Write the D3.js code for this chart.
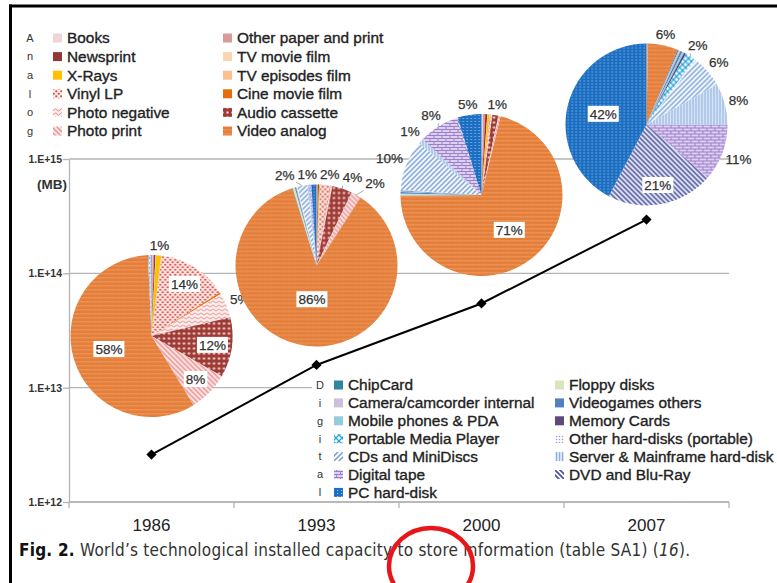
<!DOCTYPE html>
<html>
<head>
<meta charset="utf-8">
<script src="https://cdn.jsdelivr.net/npm/d3@7"></script>
<style>
  body { margin: 0; background: #fff; }
  svg { display: block; font-family: "Liberation Sans", Arial, sans-serif; }
</style>
</head>
<body>
<svg id="chart" width="777" height="583"></svg>
<script>
// ---- data -----------------------------------------------------------
const years = ["1986", "1993", "2000", "2007"];
// total installed storage capacity, MB
const totalMB = [2.6e12, 1.58e13, 5.45e13, 2.95e14];
const yTicks = [1e12, 1e13, 1e14, 1e15];

const analogSeries = ["Books", "Other paper and print", "Newsprint", "TV movie film",
  "X-Rays", "TV episodes film", "Vinyl LP", "Cine movie film", "Photo negative",
  "Audio cassette", "Photo print", "Video analog"];
const digitalSeries = ["ChipCard", "Floppy disks", "Camera/camcorder internal",
  "Videogames others", "Mobile phones & PDA", "Memory Cards", "Portable Media Player",
  "Other hard-disks (portable)", "CDs and MiniDiscs", "Server & Mainframe hard-disk",
  "Digital tape", "DVD and Blu-Ray", "PC hard-disk"];

// share of total capacity (%), same order as the series lists
const analog1986  = [0.2, 0.3, 0.3, 0.1, 1.0, 0.1, 14, 0.3, 5, 12, 8, 58];
const digital1986 = [0, 0.1, 0, 0.1, 0, 0, 0, 0, 0.2, 0.1, 0.1, 0, 0.1];
const analog1993  = [0.1, 0.2, 0.2, 0.03, 0.2, 0.02, 2.0, 0.1, 0.3, 4.0, 2.0, 86.0];
const digital1993 = [0.1, 0.4, 0.05, 0.2, 0.05, 0.05, 0.05, 0.15, 2.0, 0.3, 0.4, 0.1, 1.0];
const analog2000  = [0.3, 0.45, 0.4, 0.05, 0.4, 0.05, 0.1, 0.1, 0.3, 1.2, 0.45, 71.0];
const digital2000 = [0.1, 0.2, 0.2, 0.3, 0.2, 0.1, 0.05, 0.1, 10.0, 1.0, 8.0, 0.2, 4.75];
const analog2007  = [0.05, 0.05, 0.05, 0, 0.05, 0, 0, 0, 0.02, 0.05, 0.03, 6.0];
const digital2007 = [0.2, 0, 0.4, 0.4, 0.4, 0.4, 2.0, 0.4, 6.3, 8.3, 11.3, 21.3, 42.3];

const sharesByYear = [
  analog1986.concat(digital1986),
  analog1993.concat(digital1993),
  analog2000.concat(digital2000),
  analog2007.concat(digital2007)
];
const allSeries = analogSeries.concat(digitalSeries);

// ---- layout ---------------------------------------------------------
const svg = d3.select("#chart");
const plot = { left: 69, right: 729, top: 159, bottom: 502 };
const x = d3.scaleBand().domain(years).range([plot.left, plot.right]);
const y = d3.scaleLog().domain([1e12, 1e15]).range([plot.bottom, plot.top]);
const R = 81;                       // pie radius
const pieBaseY = 336, pieStepY = 70.5;
const insideMin = [8, 12, 12, 12];  // smallest % drawn inside a slice, per pie
const gridColor = "#b4b4b4";
const textColor = "#222";

// ---- fills ----------------------------------------------------------
const defs = svg.append("defs");
function pattern(id, w, h, bg, draw) {
  const p = defs.append("pattern").attr("id", id)
    .attr("patternUnits", "userSpaceOnUse").attr("width", w).attr("height", h);
  p.append("rect").attr("width", w).attr("height", h).attr("fill", bg);
  draw(p);
}
const line = (p, d, c, sw) => p.append("path").attr("d", d).attr("fill", "none")
  .attr("stroke", c).attr("stroke-width", sw);
const dot = (p, cx, cy, r, c) => p.append("circle").attr("cx", cx).attr("cy", cy)
  .attr("r", r).attr("fill", c);

pattern("p-video", 6, 4, "#e47e3b", p => line(p, "M0,2.6 L1.5,1 L3,2.6 L4.5,1 L6,2.6", "#f0a066", 0.9));
pattern("p-vinyl", 5, 5, "#fbe7e4", p => { dot(p, 1.25, 1.25, 1.1, "#d6463e"); dot(p, 3.75, 3.75, 1.1, "#d6463e"); });
pattern("p-photoneg", 6, 4, "#fdeeee", p => line(p, "M0,2 Q1.5,0 3,2 T6,2", "#e48c8c", 1));
pattern("p-audio", 5, 5, "#9e3b37", p => dot(p, 2.5, 2.5, 1.2, "#f1cfcb"));
pattern("p-photoprint", 5, 5, "#fce3e3", p => line(p, "M0,0 L5,5 M-1,4 L1,6 M4,-1 L6,1", "#e58f8f", 1.3));
pattern("p-pmp", 6, 6, "#ffffff", p => line(p, "M0,0 L6,6 M6,0 L0,6", "#22a3da", 1.3));
pattern("p-otherhd", 3, 3, "#ffffff", p => dot(p, 1.5, 1.5, 0.8, "#a998c9"));
pattern("p-cds", 5, 5, "#ffffff", p => line(p, "M0,5 L5,0 M-1,1 L1,-1 M4,6 L6,4", "#6d9ad4", 1.4));
pattern("p-server", 3, 4, "#d5e3f4", p => line(p, "M1.5,0 L1.5,4", "#8fb1df", 1));
pattern("p-dtape", 8, 6, "#ddd0f0", p => line(p, "M0,0.5 H8 M0,3.5 H8 M0.5,0.5 V3.5 M4.5,3.5 V6", "#9a7fca", 1));
pattern("p-dvd", 5, 5, "#ffffff", p => line(p, "M0,0 L5,5 M-1,4 L1,6 M4,-1 L6,1", "#4c559f", 1.8));
pattern("p-pchd", 4, 3, "#1c6ec2", p => p.append("rect").attr("x", 1).attr("y", 1)
  .attr("width", 1.3).attr("height", 0.9).attr("fill", "#9cc8f0"));

const seriesFill = {
  "Books": "#f1d3d6",
  "Other paper and print": "#d99a98",
  "Newsprint": "#943634",
  "TV movie film": "#fcd5b4",
  "X-Rays": "#ffc000",
  "TV episodes film": "#fac08f",
  "Vinyl LP": "url(#p-vinyl)",
  "Cine movie film": "#e46c0a",
  "Photo negative": "url(#p-photoneg)",
  "Audio cassette": "url(#p-audio)",
  "Photo print": "url(#p-photoprint)",
  "Video analog": "url(#p-video)",
  "ChipCard": "#31859c",
  "Floppy disks": "#d7e4bc",
  "Camera/camcorder internal": "#ccc0da",
  "Videogames others": "#4f81bd",
  "Mobile phones & PDA": "#93cddd",
  "Memory Cards": "#5f497a",
  "Portable Media Player": "url(#p-pmp)",
  "Other hard-disks (portable)": "url(#p-otherhd)",
  "CDs and MiniDiscs": "url(#p-cds)",
  "Server & Mainframe hard-disk": "url(#p-server)",
  "Digital tape": "url(#p-dtape)",
  "DVD and Blu-Ray": "url(#p-dvd)",
  "PC hard-disk": "url(#p-pchd)"
};

// ---- grid and axes --------------------------------------------------
svg.append("g").selectAll("line").data(yTicks).join("line")
  .attr("x1", plot.left).attr("x2", plot.right)
  .attr("y1", d => y(d)).attr("y2", d => y(d))
  .attr("stroke", gridColor).attr("stroke-width", 1.3);

const yAxis = svg.append("g").attr("transform", `translate(${plot.left},0)`)
  .call(d3.axisLeft(y).tickValues(yTicks).tickSize(6).tickSizeOuter(0)
    .tickFormat(d => "1.E+" + Math.round(Math.log10(d))));
yAxis.select(".domain").attr("stroke", gridColor).attr("stroke-width", 1.3);
yAxis.selectAll(".tick line").attr("stroke", gridColor).attr("stroke-width", 1.3);
yAxis.selectAll(".tick text").attr("font-family", "Liberation Sans, Arial, sans-serif")
  .attr("font-size", 10.5).attr("font-weight", "bold").attr("fill", "#333").attr("x", -7);

svg.append("text").attr("x", 52).attr("y", 184).attr("dy", "0.35em")
  .attr("text-anchor", "middle").attr("font-size", 13.5).attr("font-weight", "bold")
  .attr("fill", "#333").text("(MB)");

// x axis: labels at band centres, ticks at band edges
svg.append("line").attr("x1", plot.left).attr("x2", plot.right)
  .attr("y1", plot.bottom).attr("y2", plot.bottom)
  .attr("stroke", gridColor).attr("stroke-width", 1.3);
const edges = years.map(d => x(d)).concat([x(years[years.length - 1]) + x.bandwidth()]);
svg.append("g").selectAll("line").data(edges).join("line")
  .attr("x1", d => d).attr("x2", d => d)
  .attr("y1", plot.bottom).attr("y2", plot.bottom + 6)
  .attr("stroke", gridColor).attr("stroke-width", 1.3);
const xAxis = svg.append("g").attr("transform", `translate(0,${plot.bottom})`)
  .call(d3.axisBottom(x).tickSize(0).tickPadding(17));
xAxis.select(".domain").remove();
xAxis.selectAll(".tick text").attr("font-family", "Liberation Sans, Arial, sans-serif")
  .attr("font-size", 17).attr("fill", textColor);

// ---- pies -----------------------------------------------------------
const pieGen = d3.pie().sort(null).value(d => d.share);
const arcGen = d3.arc().innerRadius(0).outerRadius(R);
const measurer = svg.append("text").attr("font-size", 13.5).attr("visibility", "hidden");
const measure = t => { measurer.text(t); return measurer.node().getComputedTextLength(); };

years.forEach((yr, i) => {
  const rows = allSeries.map((name, k) => ({ name, share: sharesByYear[i][k] }));
  const total = d3.sum(rows, d => d.share);
  const arcs = pieGen(rows);
  const cx = x(yr) + x.bandwidth() / 2;
  const cy = pieBaseY - pieStepY * i;
  const g = svg.append("g").attr("transform", `translate(${cx},${cy})`);

  g.selectAll("path").data(arcs.filter(a => a.data.share > 0)).join("path")
    .attr("d", arcGen).attr("fill", d => seriesFill[d.data.name]);

  const labels = arcs
    .map(a => ({ a, pct: Math.round(a.data.share / total * 100) }))
    .filter(l => l.pct >= 1)
    .map(l => {
      const mid = (l.a.startAngle + l.a.endAngle) / 2;
      const text = l.pct + "%";
      const w = measure(text), h = 13;
      const s = Math.sin(mid), c = Math.cos(mid);
      let r, inside = l.pct >= insideMin[i];
      if (inside) r = R * (l.pct > 80 ? 0.42 : l.pct > 30 ? 0.55 : 0.76);
      else r = R + 3 + Math.abs(s) * w / 2 + Math.abs(c) * h / 2;
      return { text, w, h, mid, inside, x: r * s, y: -r * c };
    });

  // spread crowded outside labels sideways
  const outside = labels.filter(l => !l.inside);
  for (let it = 0; it < 200; it++) {
    let moved = false;
    for (let p = 0; p < outside.length; p++) {
      for (let q = p + 1; q < outside.length; q++) {
        const A = outside[p], B = outside[q];
        const need = (A.w + B.w) / 2 + 3;
        const dx = B.x - A.x;
        if (Math.abs(B.y - A.y) < (A.h + B.h) / 2 && Math.abs(dx) < need) {
          const push = (need - Math.abs(dx)) / 2 + 0.1;
          const dir = dx >= 0 ? 1 : -1;
          A.x -= dir * push; B.x += dir * push; moved = true;
        }
      }
    }
    if (!moved) break;
  }

  // leader lines for labels pushed away from their slice
  outside.forEach(l => {
    const rx = R * Math.sin(l.mid), ry = -R * Math.cos(l.mid);
    const ex = Math.max(l.x - l.w / 2, Math.min(rx, l.x + l.w / 2));
    const ey = Math.max(l.y - l.h / 2, Math.min(ry, l.y + l.h / 2));
    const len = Math.hypot(ex - rx, ey - ry);
    if (len > 5) {
      g.append("line").attr("x1", rx).attr("y1", ry)
        .attr("x2", rx + (ex - rx) * (len - 2) / len).attr("y2", ry + (ey - ry) * (len - 2) / len)
        .attr("stroke", "#999").attr("stroke-width", 0.8);
    }
  });

  labels.forEach(l => {
    if (l.inside) {
      g.append("rect").attr("x", l.x - l.w / 2 - 2).attr("y", l.y - 8)
        .attr("width", l.w + 4).attr("height", 16).attr("fill", "#fff");
    }
    g.append("text").attr("x", l.x).attr("y", l.y).attr("dy", "0.35em")
      .attr("text-anchor", "middle").attr("font-size", 13.5).attr("fill", "#333")
      .attr("stroke", "#333").attr("stroke-width", 0.25).text(l.text);
  });
});
measurer.remove();

// ---- digital legend (white box over the grid) -----------------------
svg.append("rect").attr("x", 312).attr("y", 376).attr("width", 465).attr("height", 123)
  .attr("fill", "#fff");

function legend(series, word, opt) {
  const g = svg.append("g");
  word.split("").forEach((ch, k) => {
    g.append("text").attr("x", opt.letterX).attr("y", opt.y0 + opt.step * k)
      .attr("dy", "0.35em").attr("text-anchor", "middle").attr("font-size", 11)
      .attr("fill", "#333").text(ch);
  });
  series.forEach((name, k) => {
    const col = k % 2, row = Math.floor(k / 2);
    const yy = opt.y0 + opt.step * row;
    const sx = opt.swatchX[col];
    g.append("rect").attr("x", sx).attr("y", yy - 4.5).attr("width", 9).attr("height", 9)
      .attr("fill", seriesFill[name]);
    g.append("text").attr("x", sx + 14).attr("y", yy).attr("dy", "0.35em")
      .attr("font-size", 15.4).attr("fill", textColor)
      .attr("stroke", textColor).attr("stroke-width", 0.35).text(name);
  });
}
legend(analogSeries, "Analog", { letterX: 30, y0: 38, step: 18.6, swatchX: [53, 223] });
legend(digitalSeries, "Digital", { letterX: 320, y0: 385, step: 17.9, swatchX: [334, 555] });

// ---- total capacity line -------------------------------------------
const pts = years.map((yr, i) => [x(yr) + x.bandwidth() / 2, y(totalMB[i])]);
svg.append("path").attr("d", d3.line()(pts)).attr("fill", "none")
  .attr("stroke", "#000").attr("stroke-width", 2);
svg.append("g").selectAll("path").data(pts).join("path")
  .attr("transform", d => `translate(${d[0]},${d[1]}) rotate(45)`)
  .attr("d", d3.symbol(d3.symbolSquare, 52)).attr("fill", "#000");

// ---- frame ----------------------------------------------------------
svg.append("line").attr("x1", 9).attr("x2", 777).attr("y1", 6).attr("y2", 6)
  .attr("stroke", "#000").attr("stroke-width", 3);
svg.append("line").attr("x1", 10.5).attr("x2", 10.5).attr("y1", 4.5).attr("y2", 583)
  .attr("stroke", "#000").attr("stroke-width", 3);

// ---- caption ---------------------------------------------------------
const cap = svg.append("text").attr("x", 19).attr("y", 556)
  .attr("font-family", "Liberation Sans Narrow, DejaVu Sans Condensed, Arial Narrow, sans-serif")
  .attr("font-size", 17).attr("fill", "#333")
  .attr("textLength", 671).attr("lengthAdjust", "spacing");
cap.append("tspan").attr("font-weight", "bold").attr("fill", "#111").text("Fig. 2.");
cap.append("tspan").text(" World\u2019s technological installed capacity to store information (table SA1) (");
cap.append("tspan").attr("font-style", "italic").text("16");
cap.append("tspan").text(").");

// hand-drawn highlight
svg.append("ellipse").attr("cx", 431).attr("cy", 566).attr("rx", 42).attr("ry", 38)
  .attr("fill", "none").attr("stroke", "#e8161b").attr("stroke-width", 4.5);
</script>
</body>
</html>
